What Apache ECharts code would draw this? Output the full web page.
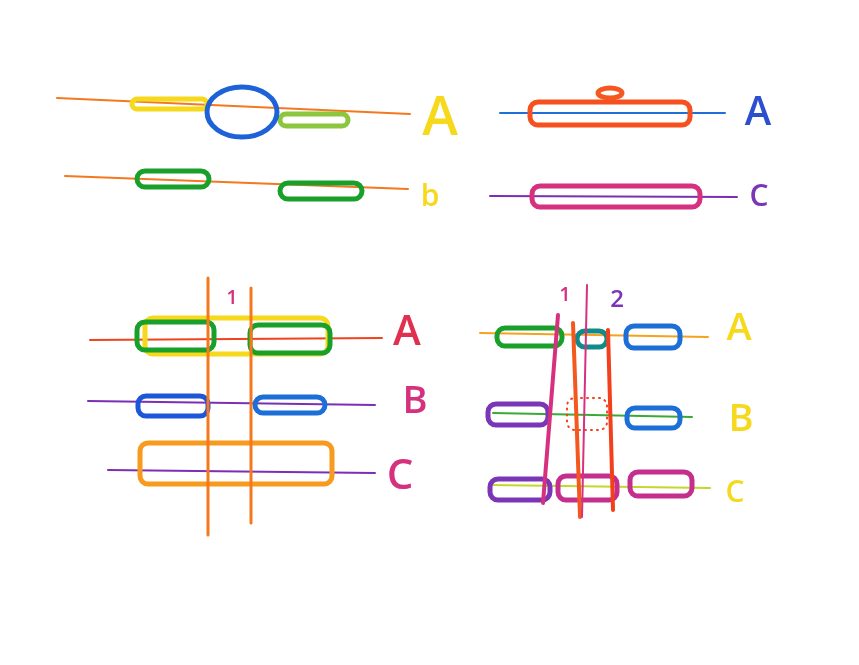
<!DOCTYPE html>
<html>
<head>
<meta charset="utf-8">
<script src="https://cdn.jsdelivr.net/npm/echarts@6/dist/echarts.min.js"></script>
<style>
  html, body { margin: 0; padding: 0; background: #fff; }
  #main { width: 859px; height: 665px; }
</style>
</head>
<body>
<div id="main"></div>
<script>
// 草图坐标 (x, y 以画布为单位)
// 水平线程 [x1, y1, x2, y2]
var threadLines = [
    [57, 98, 410, 114],
    [65, 176, 408, 189],
    [500, 113, 725, 113],
    [490, 196, 737, 197],
    [90, 340, 382, 338],
    [88, 401, 375, 405],
    [108, 470, 375, 473],
    [480, 333, 708, 337],
    [493, 413, 692, 417],
    [490, 485, 710, 488]
];
var threadColors = ['#f5781f', '#f5781f', '#1e6fd9', '#7b2fb5', '#f0441e',
    '#7b2fb5', '#7b2fb5', '#f5a21e', '#3aaa35', '#c5d62c'];

// 竖线 [x1, y1, x2, y2]
var barrierLines = [
    [208, 278, 208, 535],
    [251, 288, 251, 523],
    [558, 315, 543, 503],
    [573, 323, 580, 517],
    [587, 285, 582, 517],
    [608, 330, 613, 510]
];
var barrierColors = ['#f5781f', '#f5781f', '#d6317e', '#f5581e', '#d6317e', '#f2401d'];
var barrierWidths = [3, 3, 4, 4, 2, 4];

// 任务块 [x, y, w, h]
var taskBoxes = [
    [132, 99, 75, 10],
    [280, 114, 68, 12],
    [137, 171, 72, 16],
    [280, 183, 82, 16],
    [530, 102, 160, 23],
    [532, 186, 168, 21],
    [145, 318, 183, 36],
    [137, 322, 77, 28],
    [250, 325, 80, 28],
    [138, 396, 70, 20],
    [255, 397, 70, 16],
    [140, 443, 192, 41],
    [497, 328, 65, 18],
    [577, 331, 30, 16],
    [626, 326, 54, 22],
    [488, 404, 60, 21],
    [627, 408, 53, 20],
    [490, 479, 60, 21],
    [558, 476, 59, 24],
    [630, 472, 62, 24]
];
var taskColors = ['#f6d91c', '#8cc63f', '#19a02a', '#19a02a', '#f5501e', '#d6317e',
    '#f6d91c', '#19a02a', '#19a02a', '#1d56d8', '#1d6fd8', '#f79a1e',
    '#19a02a', '#138a8a', '#1d6fd8', '#7b36b8', '#1d6fd8', '#7b36b8', '#c42f8e', '#c42f8e'];

// 虚线框 [x, y, w, h]
var dottedBoxes = [
    [567, 398, 40, 32]
];

// 椭圆 [cx, cy, rx, ry]
var ellipses = [
    [242, 112, 35, 25],
    [610, 93, 12, 5]
];
var ellipseColors = ['#1d62d8', '#f5581e'];

// 文字 [x, y]
var labelText = ['A', 'b', 'A', 'C', '1', 'A', 'B', 'C', '1', '2', 'A', 'B', 'C'];
var labelPos = [
    [440, 120], [430, 197], [758, 114], [759, 197],
    [232, 298], [407, 333], [415, 402], [400, 477],
    [565, 295], [617, 300], [739, 329], [741, 420], [735, 493]
];
var labelColors = ['#f6d91c', '#f6d91c', '#2c4fd0', '#7b36b8',
    '#d6317e', '#e0304f', '#d6317e', '#d6317e',
    '#d6317e', '#7b36b8', '#f6d91c', '#f6d91c', '#f6d91c'];
var labelSizes = [54, 30, 40, 30, 20, 42, 38, 42, 20, 24, 38, 38, 30];

function lineRender(colors, widths) {
    return function (params, api) {
        var p1 = api.coord([api.value(0), api.value(1)]);
        var p2 = api.coord([api.value(2), api.value(3)]);
        return {
            type: 'line',
            shape: { x1: p1[0], y1: p1[1], x2: p2[0], y2: p2[1] },
            style: {
                stroke: colors[params.dataIndex],
                lineWidth: widths ? widths[params.dataIndex] : 2,
                lineCap: 'round'
            }
        };
    };
}

function boxRender(colors, dashed) {
    return function (params, api) {
        var p = api.coord([api.value(0), api.value(1)]);
        var q = api.coord([api.value(0) + api.value(2), api.value(1) + api.value(3)]);
        var h = q[1] - p[1];
        return {
            type: 'rect',
            shape: { x: p[0], y: p[1], width: q[0] - p[0], height: h, r: Math.min(8, h / 2) },
            style: dashed ? {
                fill: 'none', stroke: '#f2401d', lineWidth: 2, lineDash: [1, 5], lineCap: 'round'
            } : {
                fill: 'none', stroke: colors[params.dataIndex], lineWidth: 5, lineJoin: 'round'
            }
        };
    };
}

var myChart = echarts.init(document.getElementById('main'), null, { renderer: 'canvas' });
var option = {
    backgroundColor: '#ffffff',
    animation: false,
    grid: { left: 0, right: 0, top: 0, bottom: 0 },
    xAxis: { type: 'value', min: 0, max: 859, show: false },
    yAxis: { type: 'value', min: 0, max: 665, inverse: true, show: false },
    series: [
        {
            name: 'threads',
            type: 'custom',
            renderItem: lineRender(threadColors),
            data: threadLines
        },
        {
            name: 'boxes',
            type: 'custom',
            renderItem: boxRender(taskColors, false),
            data: taskBoxes
        },
        {
            name: 'dotted',
            type: 'custom',
            renderItem: boxRender(null, true),
            data: dottedBoxes
        },
        {
            name: 'barriers',
            type: 'custom',
            renderItem: lineRender(barrierColors, barrierWidths),
            data: barrierLines
        },
        {
            name: 'rings',
            type: 'custom',
            renderItem: function (params, api) {
                var c = api.coord([api.value(0), api.value(1)]);
                var e = api.coord([api.value(0) + api.value(2), api.value(1) + api.value(3)]);
                return {
                    type: 'ellipse',
                    shape: { cx: c[0], cy: c[1], rx: e[0] - c[0], ry: e[1] - c[1] },
                    style: { fill: 'none', stroke: ellipseColors[params.dataIndex], lineWidth: 5 }
                };
            },
            data: ellipses
        },
        {
            name: 'labels',
            type: 'custom',
            renderItem: function (params, api) {
                var p = api.coord([api.value(0), api.value(1)]);
                var i = params.dataIndex;
                return {
                    type: 'text',
                    x: p[0],
                    y: p[1],
                    style: {
                        text: labelText[i],
                        fill: labelColors[i],
                        font: '600 ' + labelSizes[i] + 'px "Open Sans", sans-serif',
                        align: 'center',
                        verticalAlign: 'middle'
                    }
                };
            },
            data: labelPos
        }
    ]
};
myChart.setOption(option);
</script>
</body>
</html>
